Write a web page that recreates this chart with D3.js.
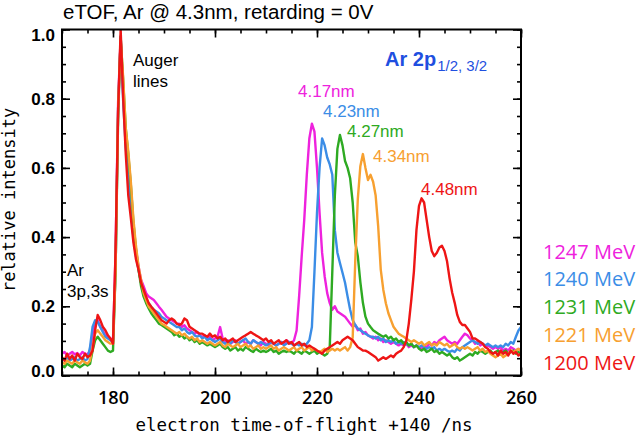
<!DOCTYPE html>
<html>
<head>
<meta charset="utf-8">
<script src="https://cdn.jsdelivr.net/npm/d3@7"></script>
<style>
body { margin: 0; background: #fff; }
svg { display: block; }
</style>
</head>
<body>
<svg id="chart" width="640" height="437"></svg>
<script>
// time axis sampled every 0.5 ns, 170..260
const times = d3.range(170, 260.25, 0.5)

const mev1247 = [
    .064, .068, .058, .063, .068, .061, .065, .058, .068, .063, .061, .072, .12, .15, .16, .14, .13, .117, .112, .107,
    .102, .35, .79, .98, .81, .68, .6, .5, .42, .365, .316, .277, .258, .238, .228, .223, .218, .209, .199, .19,
    .18, .17, .165, .16, .155, .15, .15, .14, .145, .136, .131, .126, .121, .126, .116, .111, .116, .107, .112, .102,
    .107, .112, .14, .107, .097, .102, .092, .097, .102, .092, .097, .102, .092, .097, .092, .102, .097, .092, .087, .097,
    .092, .087, .097, .092, .087, .092, .097, .092, .102, .097, .092, .102, .13, .23, .345, .45, .58, .685, .728, .705,
    .6, .47, .355, .287, .238, .209, .19, .2, .185, .18, .175, .17, .16, .15, .141, .146, .131, .136, .121, .126,
    .116, .112, .107, .112, .102, .107, .097, .102, .097, .092, .097, .092, .087, .092, .087, .092, .082, .087, .082, .087,
    .082, .077, .087, .082, .092, .087, .097, .092, .102, .107, .112, .102, .097, .092, .097, .092, .102, .112, .121, .116,
    .107, .102, .092, .097, .087, .092, .082, .087, .082, .077, .082, .077, .082, .072, .077, .072, .082, .077, .072, .077,
    .072
]
const mev1240 = [
    .048, .043, .053, .043, .048, .053, .043, .048, .053, .043, .048, .082, .141, .16, .155, .141, .126, .112, .107, .102,
    .097, .3, .77, .97, .79, .66, .58, .48, .4, .345, .306, .268, .238, .218, .209, .199, .19, .185, .18, .17,
    .165, .16, .155, .15, .145, .14, .14, .131, .136, .126, .121, .126, .116, .112, .116, .107, .112, .102, .107, .102,
    .097, .102, .107, .097, .092, .097, .092, .102, .097, .092, .097, .102, .107, .097, .092, .102, .097, .092, .097, .092,
    .087, .092, .097, .092, .087, .092, .097, .087, .092, .097, .092, .087, .092, .087, .092, .087, .092, .102, .14, .3,
    .47, .6, .685, .665, .63, .61, .58, .42, .355, .325, .297, .268, .228, .19, .16, .146, .136, .131, .126, .121,
    .116, .112, .112, .107, .112, .102, .107, .097, .102, .097, .102, .092, .097, .092, .097, .092, .087, .092, .082, .087,
    .082, .087, .082, .077, .082, .077, .082, .072, .077, .072, .077, .072, .068, .072, .068, .077, .072, .082, .087, .092,
    .097, .102, .097, .092, .097, .092, .087, .092, .087, .082, .087, .082, .087, .082, .092, .087, .097, .092, .112, .13,
    .14
]
const mev1231 = [
    .029, .024, .034, .029, .024, .034, .029, .024, .029, .034, .029, .034, .072, .102, .112, .102, .092, .082, .072, .068,
    .072, .3, .74, .98, .85, .715, .638, .55, .443, .365, .306, .258, .228, .209, .194, .18, .17, .16, .15, .146,
    .141, .136, .131, .126, .116, .121, .112, .116, .107, .112, .102, .107, .097, .102, .092, .097, .092, .087, .092, .087,
    .082, .087, .092, .082, .077, .082, .072, .077, .082, .072, .077, .072, .082, .077, .072, .068, .077, .072, .068, .072,
    .068, .072, .077, .068, .072, .063, .068, .072, .068, .072, .068, .063, .072, .068, .063, .072, .068, .063, .068, .072,
    .063, .068, .063, .058, .063, .082, .3, .52, .655, .695, .665, .62, .6, .57, .5, .385, .345, .27, .21, .17,
    .15, .14, .131, .126, .121, .116, .112, .116, .107, .112, .102, .107, .097, .102, .092, .097, .087, .092, .082, .087,
    .077, .072, .077, .068, .072, .077, .068, .072, .063, .068, .063, .058, .063, .053, .048, .053, .043, .048, .053, .058,
    .063, .058, .068, .063, .072, .068, .063, .068, .072, .063, .068, .072, .063, .068, .072, .063, .068, .072, .063, .068,
    .063
]
const mev1221 = [
    .038, .034, .043, .038, .034, .043, .038, .034, .043, .038, .034, .043, .082, .121, .131, .121, .112, .102, .097, .092,
    .092, .3, .77, .97, .86, .715, .648, .56, .453, .375, .316, .277, .238, .218, .199, .19, .18, .17, .16, .15,
    .146, .141, .136, .131, .126, .121, .126, .116, .121, .112, .107, .112, .102, .107, .097, .102, .097, .092, .097, .092,
    .087, .092, .097, .087, .082, .092, .087, .082, .087, .092, .082, .087, .092, .082, .087, .077, .082, .087, .077, .082,
    .077, .082, .087, .077, .082, .072, .077, .082, .077, .072, .077, .082, .072, .077, .082, .072, .077, .082, .072, .077,
    .072, .068, .072, .077, .068, .072, .077, .072, .077, .072, .077, .082, .072, .082, .11, .33, .51, .605, .64, .6,
    .565, .58, .56, .52, .43, .306, .248, .209, .18, .16, .141, .131, .121, .116, .112, .107, .102, .097, .102, .097,
    .092, .097, .087, .092, .097, .087, .092, .087, .097, .092, .087, .092, .082, .087, .092, .082, .077, .082, .077, .082,
    .077, .072, .077, .082, .072, .077, .068, .072, .063, .058, .053, .058, .063, .053, .058, .063, .072, .068, .072, .077,
    .072
]
const mev1200 = [
    .053, .043, .063, .048, .058, .043, .063, .053, .048, .063, .053, .058, .072, .131, .175, .16, .141, .131, .116, .107,
    .092, .36, .76, 1.0, .8, .64, .52, .455, .385, .336, .306, .268, .248, .228, .209, .199, .19, .18, .17, .16,
    .155, .15, .16, .165, .16, .15, .146, .15, .165, .16, .141, .136, .131, .126, .121, .121, .116, .112, .121, .112,
    .116, .107, .112, .102, .107, .097, .102, .107, .097, .102, .107, .112, .116, .121, .126, .121, .116, .112, .107, .102,
    .107, .097, .102, .092, .097, .102, .092, .097, .102, .092, .097, .087, .092, .097, .087, .092, .082, .087, .082, .077,
    .072, .068, .063, .072, .077, .082, .087, .092, .097, .092, .102, .107, .112, .107, .102, .092, .082, .077, .072, .072,
    .068, .063, .058, .053, .043, .048, .053, .048, .053, .058, .053, .063, .068, .072, .082, .1, .15, .22, .3, .42,
    .49, .512, .5, .45, .4, .36, .345, .355, .37, .375, .36, .33, .28, .24, .21, .175, .155, .146, .146, .136,
    .126, .107, .107, .102, .097, .092, .082, .077, .068, .063, .068, .058, .072, .063, .068, .058, .072, .063, .068, .058,
    .063
]

const seriesValues = [mev1247, mev1240, mev1231, mev1221, mev1200]
const beamEnergies = ['1247 MeV', '1240 MeV', '1231 MeV', '1221 MeV', '1200 MeV']
const wavelengths = ['4.17nm', '4.23nm', '4.27nm', '4.34nm', '4.48nm']
const colors = ['#ee22dd', '#3b8de6', '#2eaa22', '#f7a030', '#ee1515']

const xMajor = [180, 200, 220, 240, 260]
const xMinor = d3.range(170, 261, 5)
const yMajor = [0, 0.2, 0.4, 0.6, 0.8, 1.0]
const yMinor = d3.range(0, 1.001, 0.05)

const svg = d3.select('#chart')
const x = d3.scaleLinear().domain([170, 260]).range([62, 521])
const y = d3.scaleLinear().domain([0, 1]).range([375.5, 29.5])

svg.append('clipPath').attr('id', 'plotClip')
    .append('rect')
    .attr('x', x(170)).attr('y', y(1))
    .attr('width', x(260) - x(170)).attr('height', y(0) - y(1))

const line = d3.line()
    .x((d, i) => x(times[i]))
    .y(d => y(d))

svg.append('g').attr('clip-path', 'url(#plotClip)')
    .selectAll('path')
    .data(seriesValues)
    .join('path')
    .attr('d', line)
    .attr('fill', 'none')
    .attr('stroke', (d, i) => colors[i])
    .attr('stroke-width', 2.4)
    .attr('stroke-linejoin', 'round')

// ticks, all pointing inward like the original
function addAxis(axis, transform, label) {
    const g = svg.append('g').attr('transform', transform).call(axis)
    g.select('.domain').remove()
    g.selectAll('.tick line').attr('stroke', '#000').attr('stroke-width', 1.6)
    if (!label) g.selectAll('.tick text').remove()
    return g
}

addAxis(d3.axisBottom(x).tickValues(xMinor).tickSizeInner(-4).tickSizeOuter(0), `translate(0,${y(0)})`, false)
addAxis(d3.axisTop(x).tickValues(xMinor).tickSizeInner(-4).tickSizeOuter(0), `translate(0,${y(1)})`, false)
addAxis(d3.axisTop(x).tickValues(xMajor).tickSizeInner(-8).tickSizeOuter(0), `translate(0,${y(1)})`, false)
addAxis(d3.axisLeft(y).tickValues(yMinor).tickSizeInner(-4).tickSizeOuter(0), `translate(${x(170)},0)`, false)
addAxis(d3.axisRight(y).tickValues(yMinor).tickSizeInner(-4).tickSizeOuter(0), `translate(${x(260)},0)`, false)
addAxis(d3.axisRight(y).tickValues(yMajor).tickSizeInner(-8).tickSizeOuter(0), `translate(${x(260)},0)`, false)

const xAxis = addAxis(d3.axisBottom(x).tickValues(xMajor).tickSizeInner(-8).tickSizeOuter(0).tickPadding(16),
    `translate(0,${y(0)})`, true)
xAxis.selectAll('.tick text')
    .attr('font-family', '"Open Sans", sans-serif')
    .attr('font-size', 18)
    .attr('font-weight', 600)
    .attr('fill', '#000')

const yAxis = addAxis(d3.axisLeft(y).tickValues(yMajor).tickSizeInner(-8).tickSizeOuter(0).tickPadding(7)
    .tickFormat(d3.format('.1f')), `translate(${x(170)},0)`, true)
yAxis.selectAll('.tick text')
    .attr('font-family', '"Liberation Sans", Arial, sans-serif')
    .attr('font-size', 17)
    .attr('font-weight', 'bold')
    .attr('fill', '#000')
    .attr('dy', d => d == 1 ? '0.62em' : d == 0 ? '0.06em' : '0.32em')

svg.append('rect')
    .attr('x', x(170)).attr('y', y(1))
    .attr('width', x(260) - x(170)).attr('height', y(0) - y(1))
    .attr('fill', 'none')
    .attr('stroke', '#000')
    .attr('stroke-width', 2)

// titles
svg.append('text')
    .attr('x', 63).attr('y', 19)
    .attr('font-family', '"Liberation Sans", Arial, sans-serif')
    .attr('font-size', 20.5)
    .text('eTOF, Ar @ 4.3nm, retarding = 0V')

svg.append('text')
    .attr('x', 304).attr('y', 431)
    .attr('text-anchor', 'middle')
    .attr('font-family', '"DejaVu Sans Mono", monospace')
    .attr('font-size', 17.5)
    .text('electron time-of-flight +140 /ns')

svg.append('text')
    .attr('transform', 'translate(15,200) rotate(-90)')
    .attr('text-anchor', 'middle')
    .attr('font-family', '"DejaVu Sans Mono", monospace')
    .attr('font-size', 17)
    .text('relative intensity')

// annotations
const notes = [
    { text: 'Auger', x: 133, y: 66 },
    { text: 'lines', x: 133, y: 87 },
    { text: 'Ar', x: 67, y: 276 },
    { text: '3p,3s', x: 67, y: 297 }
]
svg.selectAll('.note')
    .data(notes)
    .join('text')
    .attr('class', 'note')
    .attr('x', d => d.x).attr('y', d => d.y)
    .attr('font-family', '"Liberation Sans", Arial, sans-serif')
    .attr('font-size', 17)
    .text(d => d.text)

const arLabel = svg.append('text')
    .attr('x', 385).attr('y', 66)
    .attr('font-family', '"Liberation Sans", Arial, sans-serif')
    .attr('fill', '#1f4fe0')
arLabel.append('tspan').attr('font-size', 20).attr('font-weight', 'bold').text('Ar 2p')
arLabel.append('tspan').attr('font-size', 15).attr('dy', 5).attr('dx', 1).text('1/2, 3/2')

// wavelength labels sit next to each peak
const peakLabelPos = [
    { x: 298, y: 97 },
    { x: 323, y: 117 },
    { x: 347, y: 137 },
    { x: 373, y: 162 },
    { x: 421, y: 195 }
]
svg.selectAll('.wave')
    .data(wavelengths)
    .join('text')
    .attr('class', 'wave')
    .attr('x', (d, i) => peakLabelPos[i].x)
    .attr('y', (d, i) => peakLabelPos[i].y)
    .attr('font-family', '"Liberation Sans", Arial, sans-serif')
    .attr('font-size', 17)
    .attr('fill', (d, i) => colors[i])
    .text(d => d)

svg.selectAll('.energy')
    .data(beamEnergies)
    .join('text')
    .attr('class', 'energy')
    .attr('x', 543)
    .attr('y', (d, i) => 258.5 + i * 27.9)
    .attr('font-family', '"Open Sans", sans-serif')
    .attr('font-size', 20)
    .attr('fill', (d, i) => colors[i])
    .text(d => d)
</script>
</body>
</html>
